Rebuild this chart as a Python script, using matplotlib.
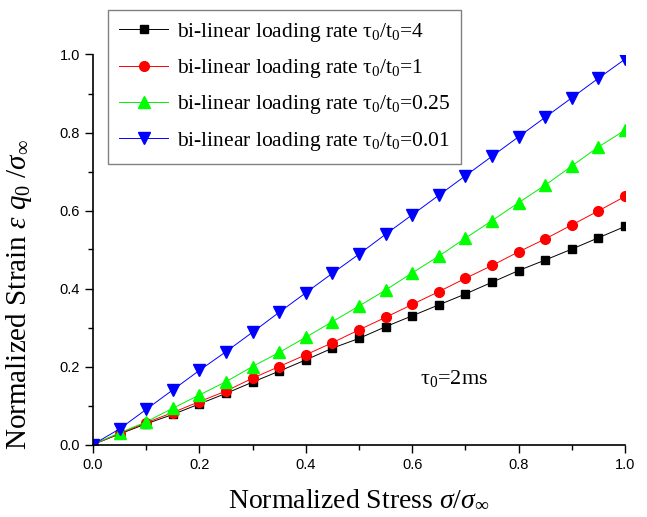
import matplotlib
matplotlib.use('Agg')
import matplotlib.pyplot as plt
from matplotlib.ticker import MultipleLocator

plt.rcParams['mathtext.fontset'] = 'custom'
plt.rcParams['mathtext.rm'] = 'Liberation Serif'
plt.rcParams['mathtext.it'] = 'Liberation Serif:italic'
plt.rcParams['mathtext.default'] = 'regular'

stress = [0.0, 0.05, 0.1, 0.15, 0.2, 0.25, 0.3, 0.35, 0.4, 0.45, 0.5,
          0.55, 0.6, 0.65, 0.7, 0.75, 0.8, 0.85, 0.9, 0.95, 1.0]
strain_4 = [0.0, 0.027, 0.053, 0.077, 0.104, 0.131, 0.160, 0.188, 0.217, 0.247, 0.272,
            0.302, 0.330, 0.358, 0.386, 0.416, 0.446, 0.473, 0.501, 0.530, 0.559]
strain_1 = [0.0, 0.028, 0.056, 0.082, 0.110, 0.137, 0.170, 0.200, 0.230, 0.261, 0.294,
            0.326, 0.359, 0.392, 0.426, 0.459, 0.494, 0.527, 0.563, 0.599, 0.636]
strain_025 = [0.0, 0.030, 0.058, 0.093, 0.127, 0.161, 0.200, 0.236, 0.275, 0.315, 0.355,
              0.396, 0.440, 0.483, 0.529, 0.574, 0.620, 0.665, 0.714, 0.763, 0.806]
strain_001 = [0.0, 0.040, 0.090, 0.140, 0.190, 0.238, 0.288, 0.339, 0.389, 0.439, 0.488,
              0.539, 0.589, 0.639, 0.689, 0.739, 0.789, 0.839, 0.889, 0.939, 0.988]

labels = [r'bi-linear loading rate τ$_0$/t$_0$=4',
          r'bi-linear loading rate τ$_0$/t$_0$=1',
          r'bi-linear loading rate τ$_0$/t$_0$=0.25',
          r'bi-linear loading rate τ$_0$/t$_0$=0.01']

fig = plt.figure(figsize=(6.47, 5.17), dpi=100)
ax = fig.add_axes([93/647, 1 - 444.5/517, 532/647, 390/517])

ax.plot(stress, strain_4, color='black', lw=0.7, marker='s', ms=6, label=labels[0])
ax.plot(stress, strain_1, color='red', lw=0.7, marker='o', ms=7, label=labels[1])
ax.plot(stress, strain_025, color='#00ee00', lw=0.7, marker='^', ms=8,
        mfc='#00ff00', mec='#00ff00', label=labels[2])
ax.plot(stress, strain_001, color='blue', lw=0.7, marker='v', ms=8, label=labels[3])

ax.set_xlim(0, 1)
ax.set_ylim(0, 1)
ax.xaxis.set_major_locator(MultipleLocator(0.2))
ax.xaxis.set_minor_locator(MultipleLocator(0.1))
ax.yaxis.set_major_locator(MultipleLocator(0.2))
ax.yaxis.set_minor_locator(MultipleLocator(0.1))
ax.tick_params(which='major', direction='out', length=6, width=1, labelsize=10.5)
ax.tick_params(which='minor', direction='out', length=3.5, width=1)
for lab in ax.get_xticklabels() + ax.get_yticklabels():
    lab.set_fontfamily('Liberation Sans')
ax.spines['top'].set_visible(False)
ax.spines['right'].set_visible(False)
ax.spines['left'].set_linewidth(1.2)
ax.spines['bottom'].set_linewidth(1.2)

ax.set_xlabel(r'Normalized Stress $\mathit{\sigma}/\mathit{\sigma}_\infty$',
              family='Liberation Serif', fontsize=20, labelpad=11)
ax.set_ylabel(r'Normalized Strain $\mathit{\varepsilon}\ \mathit{q}_\mathit{0}\ /\mathit{\sigma}_\infty$',
              family='Liberation Serif', fontsize=21)
ax.yaxis.set_label_coords(-0.11, 0.385)

ax.text(0.615, 0.155, r'τ$_0$=2ms', family='Liberation Serif', fontsize=16)

leg = ax.legend(loc='upper left', bbox_to_anchor=(108/647, 1 - 10/517),
                bbox_transform=fig.transFigure, borderaxespad=0,
                prop={'family': 'Liberation Serif', 'size': 15.5},
                fancybox=False, edgecolor='gray', framealpha=1,
                handlelength=2.3, labelspacing=0.62, handletextpad=0.4,
                borderpad=0.5)
leg.get_frame().set_linewidth(1.0)

fig.savefig('out.png', dpi=100)
